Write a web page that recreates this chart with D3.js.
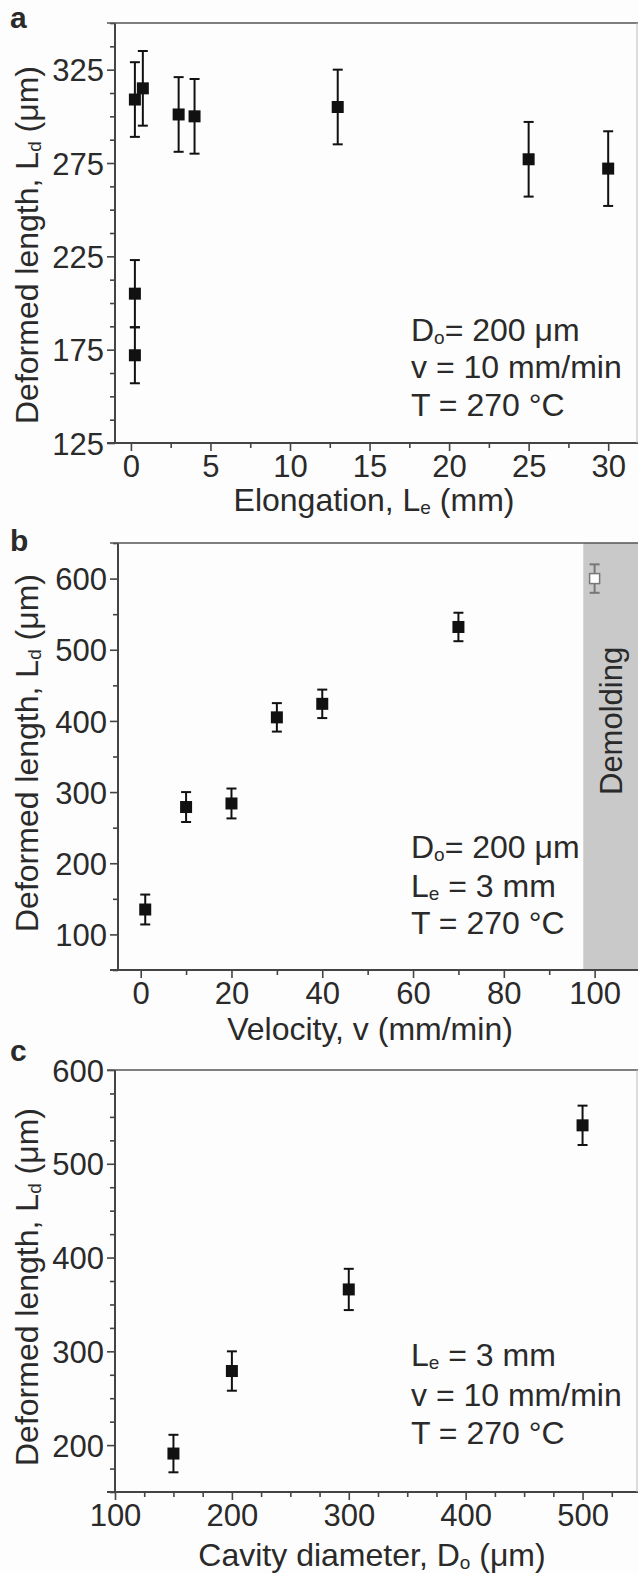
<!DOCTYPE html>
<html>
<head>
<meta charset="utf-8">
<script src="https://cdnjs.cloudflare.com/ajax/libs/d3/7.8.5/d3.min.js"></script>
<style>
  body { margin: 0; background: #fff; }
  svg text { font-family: "Liberation Sans", Arial, sans-serif; fill: #2a2a2a; }
</style>
</head>
<body>
<div class="fig-container"></div>
<script>
var w = 638;
var h = 1573;

// panel a: elongation
var elongation = [0.25, 0.25, 0.25, 0.75, 3, 4, 13, 25, 30];
var lengthA = [172, 205, 309, 315, 301, 300, 305, 277, 272];
var errA = [15, 18, 20, 20, 20, 20, 20, 20, 20];
var xTicksA = [0, 5, 10, 15, 20, 25, 30];
var yTicksA = [125, 175, 225, 275, 325];

// panel b: velocity
var velocity = [1, 10, 20, 30, 40, 70];
var lengthB = [135, 279, 284, 405, 424, 532];
var errB = [21, 21, 21, 20, 20, 20];
var demoldVelocity = [100];
var demoldLength = [600];
var demoldErr = [20];
var demoldStart = 97.5;
var xTicksB = [0, 20, 40, 60, 80, 100];
var yTicksB = [100, 200, 300, 400, 500, 600];

// panel c: cavity diameter
var diameter = [150, 200, 300, 500];
var lengthC = [191, 279, 366, 541];
var errC = [20, 21, 22, 21];
var xTicksC = [100, 200, 300, 400, 500];
var yTicksC = [200, 300, 400, 500, 600];

var svg = d3.select(".fig-container")
    .append("svg")
    .attr("width", w)
    .attr("height", h);

svg.append("rect").attr("width", w).attr("height", h).attr("fill", "#fdfdfd");

function zip(xs, ys, es) {
    return xs.map(function (x, i) { return {x: x, y: ys[i], e: es[i]}; });
}

function range(a, b, step) {
    var out = [];
    for (var v = a; v <= b + 1e-9; v += step) out.push(+v.toFixed(4));
    return out;
}

function drawPanel(p) {
    var x = d3.scaleLinear().domain(p.xDomain).range(p.xRange);
    var y = d3.scaleLinear().domain(p.yDomain).range(p.yRange);
    var g = svg.append("g");

    // shaded region (panel b only)
    if (p.band) {
        g.append("rect")
            .attr("x", x(p.band))
            .attr("y", y(p.yDomain[1]))
            .attr("width", p.xRange[1] - x(p.band))
            .attr("height", y(p.yDomain[0]) - y(p.yDomain[1]))
            .attr("fill", "#c9c9c9");
        g.append("text")
            .attr("transform", "translate(" + (x(p.band) + 39) + "," + y(p.bandLabelAt) + ") rotate(-90)")
            .attr("text-anchor", "middle")
            .style("font-size", "31px")
            .text("Demolding");
    }

    // minor ticks
    var xMinor = range(p.xMinor[0], p.xMinor[1], p.xMinor[2]).filter(function (v) { return p.xTicks.indexOf(v) < 0; });
    var yMinor = range(p.yMinor[0], p.yMinor[1], p.yMinor[2]).filter(function (v) { return p.yTicks.indexOf(v) < 0; });

    g.append("g")
        .attr("class", "minor")
        .attr("transform", "translate(0," + p.yRange[0] + ")")
        .call(d3.axisBottom(x).tickValues(xMinor).tickSize(5).tickFormat(""));
    g.append("g")
        .attr("class", "minor")
        .attr("transform", "translate(" + p.xRange[0] + ",0)")
        .call(d3.axisLeft(y).tickValues(yMinor).tickSize(5).tickFormat(""));

    var xAxis = g.append("g")
        .attr("transform", "translate(0," + p.yRange[0] + ")")
        .call(d3.axisBottom(x).tickValues(p.xTicks).tickSize(8).tickPadding(4).tickFormat(d3.format("d")));
    var yAxis = g.append("g")
        .attr("transform", "translate(" + p.xRange[0] + ",0)")
        .call(d3.axisLeft(y).tickValues(p.yTicks).tickSize(8).tickPadding(3).tickFormat(d3.format("d")));

    g.selectAll(".domain").attr("stroke", "none");
    g.selectAll(".tick line").attr("stroke", "#444").attr("stroke-width", 1.6);
    [xAxis, yAxis].forEach(function (a) {
        a.selectAll("text").style("font-size", "31px").attr("fill", "#2a2a2a")
            .style("font-family", "Liberation Sans, Arial, sans-serif");
    });
    yAxis.selectAll("text").attr("dy", "0.36em");

    // frame lines
    g.append("line").attr("x1", p.xRange[0]).attr("x2", p.xRange[0])
        .attr("y1", p.yRange[1]).attr("y2", p.yRange[0]).attr("stroke", "#444").attr("stroke-width", 2);
    g.append("line").attr("x1", p.xRange[0] - 8).attr("x2", w)
        .attr("y1", p.yRange[0]).attr("y2", p.yRange[0]).attr("stroke", "#444").attr("stroke-width", 2);
    g.append("line").attr("x1", p.xRange[0] - 8).attr("x2", w)
        .attr("y1", p.yRange[1]).attr("y2", p.yRange[1]).attr("stroke", "#555").attr("stroke-width", 1.6);
    if (!p.band) {
        g.append("line").attr("x1", w - 1).attr("x2", w - 1)
            .attr("y1", p.yRange[1]).attr("y2", p.yRange[0]).attr("stroke", "#bbb").attr("stroke-width", 1);
    }

    // error bars + markers
    function points(data, cls, stroke, fill, size) {
        var pt = g.selectAll("g." + cls).data(data).enter().append("g").attr("class", cls);
        pt.append("line")
            .attr("x1", function (d) { return x(d.x); })
            .attr("x2", function (d) { return x(d.x); })
            .attr("y1", function (d) { return y(d.y - d.e); })
            .attr("y2", function (d) { return y(d.y + d.e); })
            .attr("stroke", stroke).attr("stroke-width", 2);
        [1, -1].forEach(function (s) {
            pt.append("line")
                .attr("x1", function (d) { return x(d.x) - 5; })
                .attr("x2", function (d) { return x(d.x) + 5; })
                .attr("y1", function (d) { return y(d.y + s * d.e); })
                .attr("y2", function (d) { return y(d.y + s * d.e); })
                .attr("stroke", stroke).attr("stroke-width", 2);
        });
        pt.append("rect")
            .attr("x", function (d) { return x(d.x) - size / 2; })
            .attr("y", function (d) { return y(d.y) - size / 2; })
            .attr("width", size).attr("height", size)
            .attr("fill", fill)
            .attr("stroke", stroke)
            .attr("stroke-width", fill === "#111" ? 0 : 1.5);
    }
    points(p.data, "pt", "#111", "#111", 12);
    if (p.open) points(p.open, "open", "#777", "#fff", 10);

    // panel letter
    svg.append("text")
        .attr("x", 10).attr("y", p.letterY)
        .style("font-size", "30px").style("font-weight", "bold")
        .text(p.letter);

    // x title
    var xt = svg.append("text")
        .attr("x", p.xTitleX).attr("y", p.xTitleY)
        .attr("text-anchor", "middle")
        .style("font-size", "32px");
    p.xTitle.forEach(function (part) {
        xt.append("tspan").text(part[0])
            .style("font-size", part[1] ? "19px" : null)
            .attr("dy", part[1] ? 3 : (part[2] ? -3 : null));
    });

    // y title
    var yt = svg.append("text")
        .attr("transform", "translate(38," + p.yTitleY + ") rotate(-90)")
        .attr("text-anchor", "middle")
        .style("font-size", "32px");
    yt.append("tspan").text("Deformed length, L");
    yt.append("tspan").text("d").style("font-size", "19px").attr("dy", 3);
    yt.append("tspan").text(" (\u03bcm)").attr("dy", -3);

    // condition notes
    p.notes.forEach(function (line, i) {
        var t = svg.append("text")
            .attr("x", 411).attr("y", p.noteY[i])
            .style("font-size", "32px");
        line.forEach(function (part) {
            t.append("tspan").text(part[0])
                .style("font-size", part[1] ? "19px" : null)
                .attr("dy", part[1] ? 3 : (part[2] ? -3 : null));
        });
    });
}

var noteD = [["D"], ["o", true], ["= 200 \u03bcm", false, true]];
var noteV = [["v = 10 mm/min"]];
var noteT = [["T = 270 \u00b0C"]];
var noteL = [["L"], ["e", true], [" = 3 mm", false, true]];

drawPanel({
    letter: "a", letterY: 28,
    xDomain: [-1, 32], xRange: [115, 640],
    yDomain: [125, 350], yRange: [443, 23],
    xTicks: xTicksA, yTicks: yTicksA,
    xMinor: [0, 32.5, 2.5], yMinor: [125, 350, 12.5],
    data: zip(elongation, lengthA, errA),
    xTitle: [["Elongation, L"], ["e", true], [" (mm)", false, true]],
    xTitleX: 374, xTitleY: 511,
    yTitleY: 245,
    notes: [noteD, noteV, noteT], noteY: [341, 378, 416]
});

drawPanel({
    letter: "b", letterY: 551,
    xDomain: [-5, 110], xRange: [118, 640],
    yDomain: [50, 650], yRange: [970, 543],
    xTicks: xTicksB, yTicks: yTicksB,
    xMinor: [0, 110, 10], yMinor: [50, 650, 50],
    data: zip(velocity, lengthB, errB),
    open: zip(demoldVelocity, demoldLength, demoldErr),
    band: demoldStart, bandLabelAt: 400,
    xTitle: [["Velocity, v (mm/min)"]],
    xTitleX: 370, xTitleY: 1040,
    yTitleY: 753,
    notes: [noteD, noteL, noteT], noteY: [858, 897, 934]
});

drawPanel({
    letter: "c", letterY: 1061,
    xDomain: [100, 550], xRange: [115, 641],
    yDomain: [150, 600], yRange: [1492, 1070],
    xTicks: xTicksC, yTicks: yTicksC,
    xMinor: [100, 550, 25], yMinor: [150, 600, 25],
    data: zip(diameter, lengthC, errC),
    xTitle: [["Cavity diameter, D"], ["o", true], [" (\u03bcm)", false, true]],
    xTitleX: 372, xTitleY: 1566,
    yTitleY: 1287,
    notes: [noteL, noteV, noteT], noteY: [1366, 1406, 1444]
});
</script>
</body>
</html>
